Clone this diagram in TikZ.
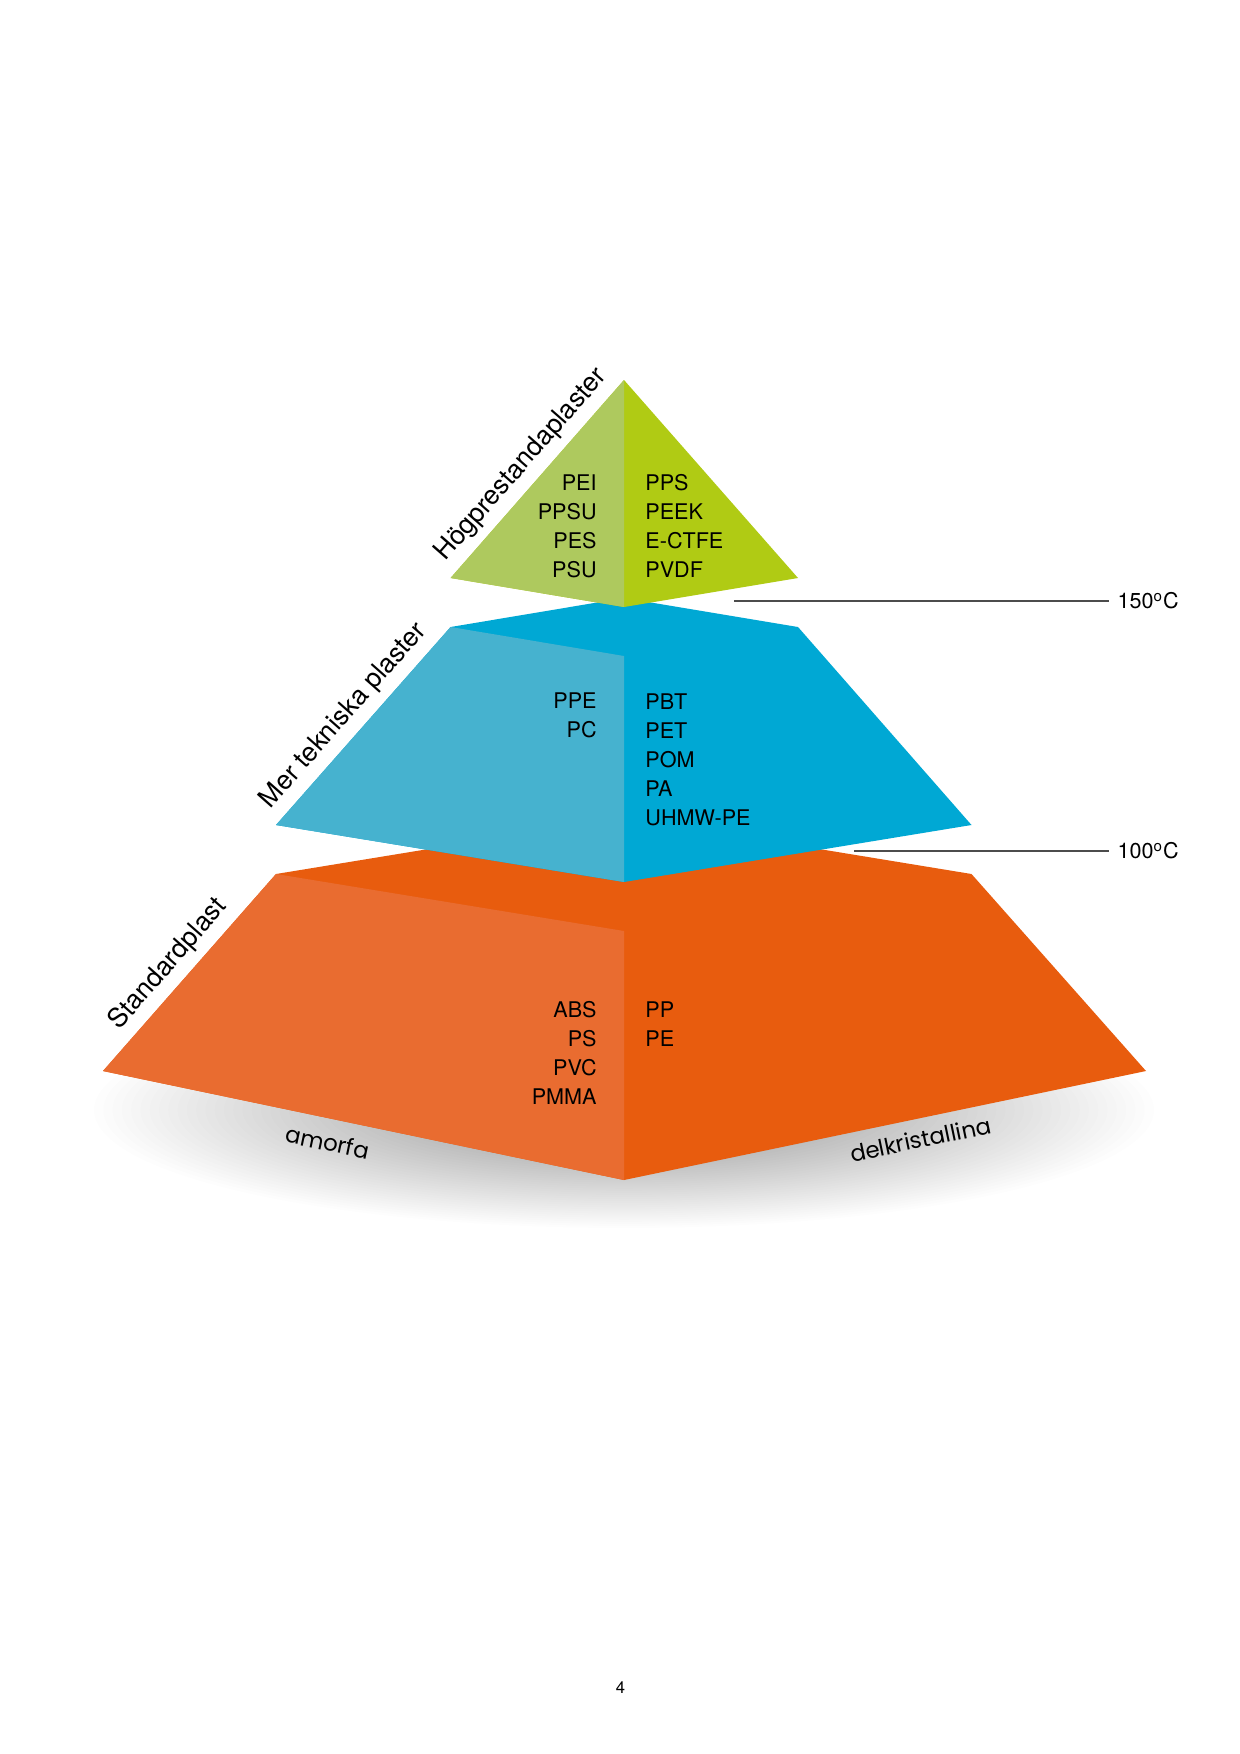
\documentclass[tikz,border=0pt]{standalone}
\usepackage{fontspec}
\setmainfont{TeX Gyre Heros}
\newfontfamily\geofont{Poppins}
\usetikzlibrary{calc, positioning}
\definecolor{greenL}{RGB}{174,201,94}
\definecolor{greenR}{RGB}{176,203,20}
\definecolor{blueL}{RGB}{70,178,207}
\definecolor{blueR}{RGB}{0,168,212}
\definecolor{orangeL}{RGB}{233,108,48}
\definecolor{orangeR}{RGB}{232,92,14}
\tikzset{plastlist/.style={font=\fontsize{10.4}{13.9}\selectfont, inner sep=0pt},
    sidelabel/.style={font=\fontsize{12.8}{15}\selectfont, inner sep=0pt},
    baselabel/.style={font=\geofont\fontsize{11}{13}\selectfont, inner sep=0pt},
    templine/.style={draw=black!70, line width=0.7pt}}

\begin{document}
\begin{tikzpicture}[x=0.16935mm, y=-0.16935mm]
    \useasboundingbox (0,0) rectangle (1240,1754);
    \fill[white] (0,0) rectangle (1240,1754);

    % Soft shadow under the base, built from stacked ellipses
    \foreach \k in {0,...,39}
        \fill[black, opacity=0.006] (624,1110) ellipse [x radius={530*(1-0.0175*\k)}, y radius={118*(1-0.0175*\k)}];

    % Base layer: (276,874) -- (624,817) -- (971.5,874), front edge down to (624,1180)
    \coordinate (sTL) at (276,874);   \coordinate (sBack) at (624,817);
    \coordinate (sTR) at (971.5,874); \coordinate (sFront) at (624,931);
    \coordinate (sBL) at (103,1071);  \coordinate (sBR) at (1146,1071);
    \coordinate (sBot) at (624,1180);
    \fill[orangeR] (sTL) -- (sBack) -- (sTR) -- (sBR) -- (sBot) -- (sBL) -- cycle;
    \fill[orangeL] (sTL) -- (sFront) -- (sBot) -- (sBL) -- cycle;

    % Middle layer
    \coordinate (mTL) at (450.6,627); \coordinate (mBack) at (624,598);
    \coordinate (mTR) at (798,627);   \coordinate (mFront) at (624,656);
    \coordinate (mBL) at (276,825);   \coordinate (mBR) at (971.5,825);
    \coordinate (mBot) at (624,882);
    \fill[blueR] (mTL) -- (mBack) -- (mTR) -- (mBR) -- (mBot) -- (mBL) -- cycle;
    \fill[blueL] (mTL) -- (mFront) -- (mBot) -- (mBL) -- cycle;

    % Top
    \coordinate (apex) at (624,380);
    \coordinate (hL) at (450.6,578);  \coordinate (hR) at (798,578);
    \coordinate (hBot) at (624,607);
    \fill[greenR] (apex) -- (hR) -- (hBot) -- (hL) -- cycle;
    \fill[greenL] (apex) -- (hBot) -- (hL) -- cycle;

    % Plastics, amorphous left and semi-crystalline right (base = last line)
    \node[plastlist, align=right, anchor=base east] (hpAmorf) at (597,577) {PEI\\PPSU\\PES\\PSU};
    \node[plastlist, align=left, anchor=base west] (hpKrist) at (645,577) {PPS\\PEEK\\E-CTFE\\PVDF};
    \node[plastlist, align=right, anchor=base east] (mtAmorf) at (597,737) {PPE\\PC};
    \node[plastlist, align=left, anchor=base west] (mtKrist) at (645,825) {PBT\\PET\\POM\\PA\\UHMW-PE};
    \node[plastlist, align=right, anchor=base east] (stAmorf) at (597,1104) {ABS\\PS\\PVC\\PMMA};
    \node[plastlist, align=left, anchor=base west] (stKrist) at (645,1046) {PP\\PE};

    % Layer names along the left edges
    \path (hL) -- (apex) node[sidelabel, midway, sloped, above=4pt] (lblHigh) {Högprestandaplaster};
    \path (mBL) -- (mTL) node[sidelabel, pos=0.48, sloped, above=4pt] (lblTech) {Mer tekniska plaster};
    \path (sBL) -- (sTL) node[sidelabel, pos=0.47, sloped, above=4pt] (lblStd) {Standardplast};

    % Base edges
    \path (sBL) -- (sBot) node[baselabel, pos=0.44, sloped, below=7pt] (lblAmorf) {amorfa};
    \path (sBot) -- (sBR) node[baselabel, pos=0.56, sloped, below=5.5pt] (lblKrist) {delkristallina};

    % Temperature limits
    \foreach \temp/\yy/\xx in {150/601/734, 100/851/854} {
        \coordinate (c\temp) at (\xx,\yy);
        \node[plastlist, inner xsep=4pt, anchor=west] (t\temp) at (1109,\yy) {\temp\textsuperscript{o}C};
        \draw[templine] (c\temp) -- (t\temp.west);
    }

    \node[font=\fontsize{8}{10}\selectfont] (pageNo) at (620.5,1688) {4};
\end{tikzpicture}
\end{document}
